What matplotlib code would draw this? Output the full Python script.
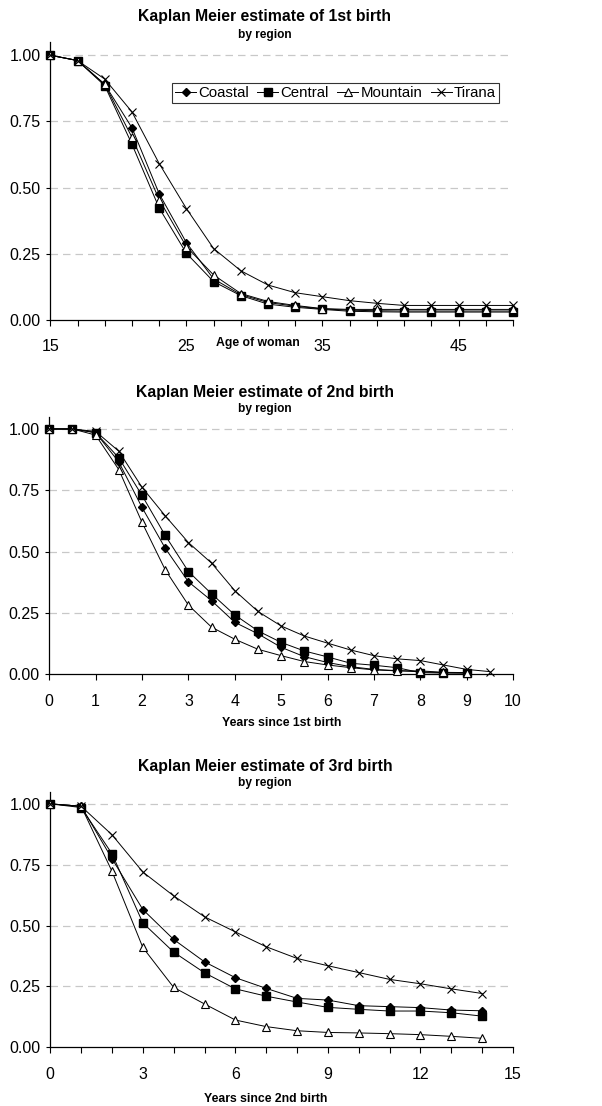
import matplotlib
matplotlib.use("Agg")
import matplotlib.pyplot as plt

plt.rcParams['font.family'] = ['Liberation Sans', 'DejaVu Sans']

regions = ['Coastal', 'Central', 'Mountain', 'Tirana']

# 1st birth, by age of woman
age = [15, 17, 19, 21, 23, 25, 27, 29, 31, 33, 35, 37, 39, 41, 43, 45, 47, 49]
coastal1 = [1.0, 0.98, 0.89, 0.726, 0.477, 0.292, 0.155, 0.096, 0.066, 0.052, 0.042, 0.037, 0.035, 0.034, 0.034, 0.034, 0.034, 0.034]
central1 = [1.0, 0.98, 0.885, 0.664, 0.423, 0.252, 0.145, 0.092, 0.06, 0.048, 0.04, 0.033, 0.031, 0.03, 0.03, 0.03, 0.03, 0.03]
mountain1 = [1.0, 0.98, 0.89, 0.69, 0.455, 0.277, 0.17, 0.1, 0.07, 0.055, 0.043, 0.04, 0.04, 0.04, 0.04, 0.04, 0.04, 0.04]
tirana1 = [1.0, 0.98, 0.91, 0.786, 0.591, 0.421, 0.27, 0.186, 0.132, 0.103, 0.088, 0.073, 0.063, 0.055, 0.055, 0.055, 0.055, 0.055]

# 2nd birth, years since 1st birth
years2 = [0, 0.5, 1, 1.5, 2, 2.5, 3, 3.5, 4, 4.5, 5, 5.5, 6, 6.5, 7, 7.5, 8, 8.5, 9]
coastal2 = [1.0, 1.0, 0.985, 0.865, 0.68, 0.514, 0.377, 0.3, 0.212, 0.165, 0.11, 0.072, 0.048, 0.031, 0.02, 0.015, 0.01, 0.007, 0.005]
central2 = [1.0, 1.0, 0.985, 0.882, 0.729, 0.566, 0.419, 0.328, 0.242, 0.177, 0.13, 0.095, 0.071, 0.045, 0.037, 0.027, 0.007, 0.005, 0.005]
mountain2 = [1.0, 1.0, 0.975, 0.834, 0.619, 0.426, 0.282, 0.192, 0.143, 0.102, 0.076, 0.052, 0.038, 0.027, 0.018, 0.014, 0.014, 0.008, 0.007]
years2_t = [0, 0.5, 1, 1.5, 2, 2.5, 3, 3.5, 4, 4.5, 5, 5.5, 6, 6.5, 7, 7.5, 8, 8.5, 9, 9.5]
tirana2 = [1.0, 1.0, 0.99, 0.909, 0.762, 0.646, 0.537, 0.453, 0.341, 0.256, 0.197, 0.156, 0.127, 0.099, 0.076, 0.063, 0.056, 0.038, 0.02, 0.011]

# 3rd birth, years since 2nd birth
years3 = [0, 1, 2, 3, 4, 5, 6, 7, 8, 9, 10, 11, 12, 13, 14]
coastal3 = [1.0, 0.99, 0.775, 0.566, 0.443, 0.351, 0.286, 0.242, 0.201, 0.194, 0.171, 0.167, 0.163, 0.153, 0.15]
central3 = [1.0, 0.985, 0.795, 0.511, 0.391, 0.306, 0.24, 0.21, 0.186, 0.164, 0.156, 0.149, 0.149, 0.142, 0.128]
mountain3 = [1.0, 0.99, 0.723, 0.41, 0.246, 0.178, 0.112, 0.085, 0.068, 0.061, 0.059, 0.056, 0.052, 0.045, 0.037]
tirana3 = [1.0, 0.99, 0.873, 0.72, 0.622, 0.536, 0.474, 0.413, 0.365, 0.335, 0.307, 0.279, 0.261, 0.24, 0.221]

styles = {
    'Coastal': dict(marker='D', ms=4, mfc='black', mec='black'),
    'Central': dict(marker='s', ms=5.5, mfc='black', mec='black'),
    'Mountain': dict(marker='^', ms=6, mfc='white', mec='black', mew=0.8),
    'Tirana': dict(marker='x', ms=6, mec='black', mew=0.8),
}

W, H = 602, 1106
fig = plt.figure(figsize=(W / 100, H / 100), dpi=100)


def make_axes(left, right, top, bottom):
    return fig.add_axes([left / W, 1 - bottom / H, (right - left) / W, (bottom - top) / H])


def style_axes(ax):
    ax.set_ylim(0, 1.05)
    ax.set_yticks([0, 0.25, 0.5, 0.75, 1.0])
    ax.set_yticklabels(['0.00', '0.25', '0.50', '0.75', '1.00'])
    for y in [0.25, 0.5, 0.75, 1.0]:
        ax.axhline(y, color='#c8c8c8', lw=0.9, ls=(0, (6, 4)), zorder=0)
    ax.spines['top'].set_visible(False)
    ax.spines['right'].set_visible(False)
    ax.spines['left'].set_linewidth(0.9)
    ax.spines['bottom'].set_linewidth(0.9)
    ax.tick_params(axis='x', direction='out', length=4, width=0.8, pad=10, labelsize=11.5)
    ax.tick_params(axis='y', direction='out', length=3, width=0.8, pad=4, labelsize=11.5)


def draw(ax, series):
    for name, (x, y) in zip(regions, series):
        ax.plot(x, y, color='black', lw=0.7, label=name, clip_on=False, zorder=3, **styles[name])


def titles(y_title, y_sub, text):
    fig.text(265 / W, 1 - y_title / H, text, ha='center', va='center', fontsize=11.3, fontweight='bold')
    fig.text(265 / W, 1 - y_sub / H, 'by region', ha='center', va='center', fontsize=8.6, fontweight='bold')


# panel 1
ax1 = make_axes(50.3, 513, 42, 320)
draw(ax1, [(age, coastal1), (age, central1), (age, mountain1), (age, tirana1)])
style_axes(ax1)
ax1.set_xlim(15, 49)
ax1.set_xticks(age)
ax1.set_xticklabels([str(a) if (a - 15) % 10 == 0 else '' for a in age])
leg = ax1.legend(loc='upper left', bbox_to_anchor=((172 - 50.3) / (513 - 50.3), 1 - (83 - 42) / 278),
                 ncol=4, frameon=True, fancybox=False, edgecolor='black', fontsize=10.8,
                 handlelength=1.4, handletextpad=0.15, columnspacing=0.55, borderpad=0.2,
                 borderaxespad=0)
leg.get_frame().set_linewidth(0.8)
fig.text(258 / W, 1 - 343 / H, 'Age of woman', ha='center', va='center', fontsize=8.8, fontweight='bold')
titles(17, 35, 'Kaplan Meier estimate of 1st birth')

# panel 2
ax2 = make_axes(49.3, 513, 416.7, 674.3)
draw(ax2, [(years2, coastal2), (years2, central2), (years2, mountain2), (years2_t, tirana2)])
style_axes(ax2)
ax2.set_xlim(0, 10)
ax2.set_xticks(range(0, 11))
fig.text(282 / W, 1 - 723 / H, 'Years since 1st birth', ha='center', va='center', fontsize=8.8, fontweight='bold')
titles(392, 409, 'Kaplan Meier estimate of 2nd birth')

# panel 3
ax3 = make_axes(50.3, 513, 791.7, 1047.3)
draw(ax3, [(years3, coastal3), (years3, central3), (years3, mountain3), (years3, tirana3)])
style_axes(ax3)
ax3.set_xlim(0, 15)
ax3.set_xticks(range(0, 16))
ax3.set_xticklabels([str(v) if v % 3 == 0 else '' for v in range(0, 16)])
fig.text(266 / W, 1 - 1099 / H, 'Years since 2nd birth', ha='center', va='center', fontsize=8.8, fontweight='bold')
titles(766, 783, 'Kaplan Meier estimate of 3rd birth')

fig.savefig('out.png', dpi=100)
